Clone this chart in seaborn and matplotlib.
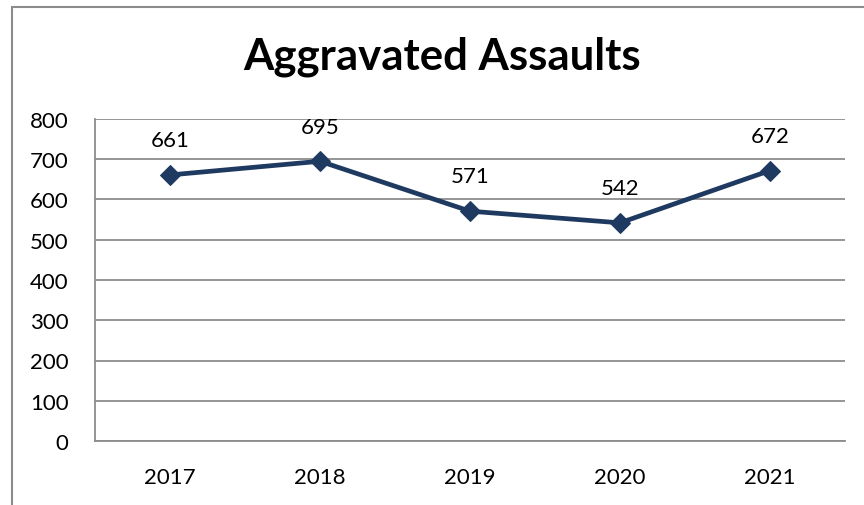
import matplotlib
matplotlib.use("Agg")
from matplotlib import pyplot as plt
from matplotlib.patches import Rectangle
import pandas as pd
import seaborn as sns

years = ["2017", "2018", "2019", "2020", "2021"]
assaults = [661, 695, 571, 542, 672]
y_ticks = [0, 100, 200, 300, 400, 500, 600, 700, 800]

LINE_COLOR = "#1F3A60"
GRID_COLOR = "#8C8C8C"

sns.set_theme(style="white")
plt.rcParams["font.family"] = ["Lato", "DejaVu Sans"]

df = pd.DataFrame({"year": years, "assaults": assaults})

fig = plt.figure(figsize=(8.64, 5.06), dpi=100)
ax = fig.add_axes([95 / 864, 1 - 442 / 506, 750 / 864, 322 / 506])

sns.lineplot(data=df, x="year", y="assaults", ax=ax, color=LINE_COLOR,
             linewidth=3.4, marker="D", markersize=10, markeredgecolor=LINE_COLOR)

for i, v in enumerate(assaults):
    ax.annotate(str(v), (i, v), xytext=(0, 25), textcoords="offset points",
                ha="center", va="center", fontsize=16, color="black")

ax.set_xlim(-0.5, 4.5)
ax.set_ylim(0, 800)
ax.set_yticks(y_ticks)
ax.set_xlabel("")
ax.set_ylabel("")
ax.tick_params(axis="both", length=0, labelsize=16, colors="black")
ax.tick_params(axis="y", pad=19)
ax.tick_params(axis="x", pad=19)
ax.yaxis.grid(True, color=GRID_COLOR, linewidth=1.3)
ax.set_axisbelow(True)
for side in ["top", "right"]:
    ax.spines[side].set_visible(False)
for side in ["left", "bottom"]:
    ax.spines[side].set_color(GRID_COLOR)
    ax.spines[side].set_linewidth(1.3)

# outer chart frame
fig.patches.append(Rectangle((12 / 864, -0.2), 1.2, 1.2 - 8 / 506, transform=fig.transFigure,
                             fill=False, edgecolor="#8C8C8C", linewidth=1.5))

fig.text(442 / 864, 1 - 57 / 506, "Aggravated Assaults", ha="center", va="center",
         fontsize=31.5, fontweight="bold", color="black")

fig.savefig("out.png", dpi=100)
